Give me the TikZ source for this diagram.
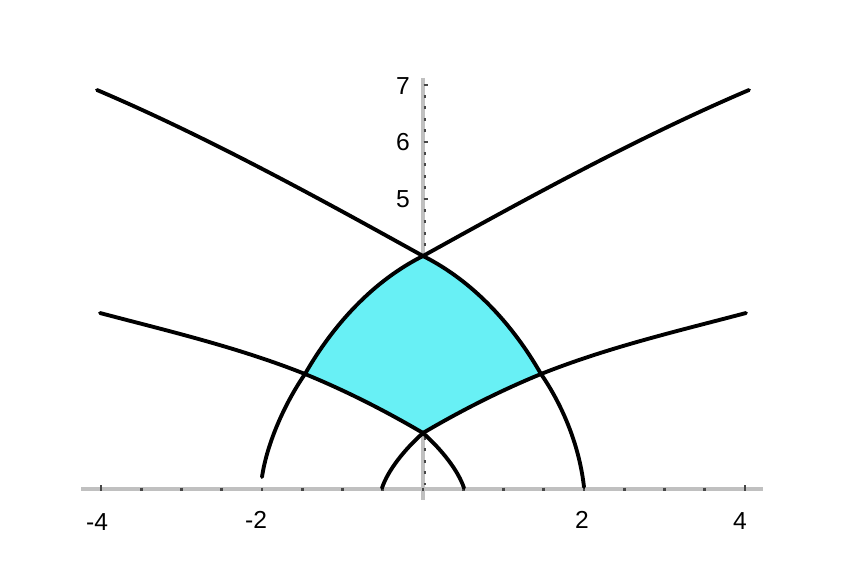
\documentclass[tikz,border=0pt]{standalone}
\usepackage{fontspec}
\setmainfont{Liberation Sans}
\usetikzlibrary{calc}
\definecolor{regioncyan}{RGB}{104,240,245}
\definecolor{axisgray}{RGB}{192,192,192}
\definecolor{tickgray}{RGB}{70,70,70}

\begin{document}
\begin{tikzpicture}[
    x=0.02cm, y=-0.02cm,
    axis/.style={draw=axisgray, line width=2.4pt},
    curve/.style={draw=black, line width=2.2pt, line cap=round},
    tickmark/.style={draw=tickgray, line width=1.5pt},
    ticklabel/.style={font=\fontsize{14}{16}\selectfont, inner sep=0pt}
]
\useasboundingbox (0,0) rectangle (859,564);

% Corner points of the shaded region
\coordinate (top) at (423,256);
\coordinate (bot) at (423,433);
\coordinate (lx) at (305,374);
\coordinate (rx) at (541,374);

% Axes with ticks
\draw[axis] (81,489) -- (763,489);
\draw[axis] (423,78) -- (423,500);
\foreach \k in {-8,...,8}
    \draw[tickmark] ({423+40.25*\k},487.5) -- ({423+40.25*\k},490.5);
\foreach \k in {-4,4}
    \draw[tickmark] ({423+80.5*\k},485) -- ({423+80.5*\k},491);
\foreach \k in {0,...,35}
    \draw[tickmark] (423.5,{85+11.4*\k}) -- (426,{85+11.4*\k});
\foreach \k in {0,...,2}
    \draw[tickmark] (423.5,{85+57*\k}) -- (428,{85+57*\k});

% Shaded region
\fill[regioncyan] (top) .. controls (373,281) and (333,325) .. (lx)
    .. controls (344,390) and (384,410) .. (bot)
    .. controls (462,410) and (502,390) .. (rx)
    .. controls (513,325) and (473,281) .. (top) -- cycle;

% Tick labels
\node[ticklabel] (xm4) at (97,522) {-4};
\node[ticklabel] (xm2) at (256,520) {-2};
\node[ticklabel] (xp2) at (582,520) {2};
\node[ticklabel] (xp4) at (740,521) {4};
\node[ticklabel] (y7) at (403,86) {7};
\node[ticklabel] (y6) at (403,142) {6};
\node[ticklabel] (y5) at (403,199) {5};

% Upper curves
\draw[curve] (97,90) .. controls (205,136) and (315,196) .. (top);
\draw[curve] (749,90) .. controls (641,136) and (531,196) .. (top);

% Lower curves
\draw[curve] (100,313) .. controls (168,331) and (237,347) .. (lx)
    .. controls (344,390) and (384,410) .. (bot);
\draw[curve] (746,313) .. controls (678,331) and (609,347) .. (rx)
    .. controls (502,390) and (462,410) .. (bot);

% Large arc
\draw[curve] (262,477) .. controls (267,443) and (285,403) .. (lx)
    .. controls (333,325) and (373,281) .. (top);
\draw[curve] (584,487) .. controls (579,443) and (561,403) .. (rx)
    .. controls (513,325) and (473,281) .. (top);

% Small arc
\draw[curve] (382,488) .. controls (388,470) and (405,449) .. (bot)
    .. controls (441,449) and (458,470) .. (464,488);

\end{tikzpicture}
\end{document}
